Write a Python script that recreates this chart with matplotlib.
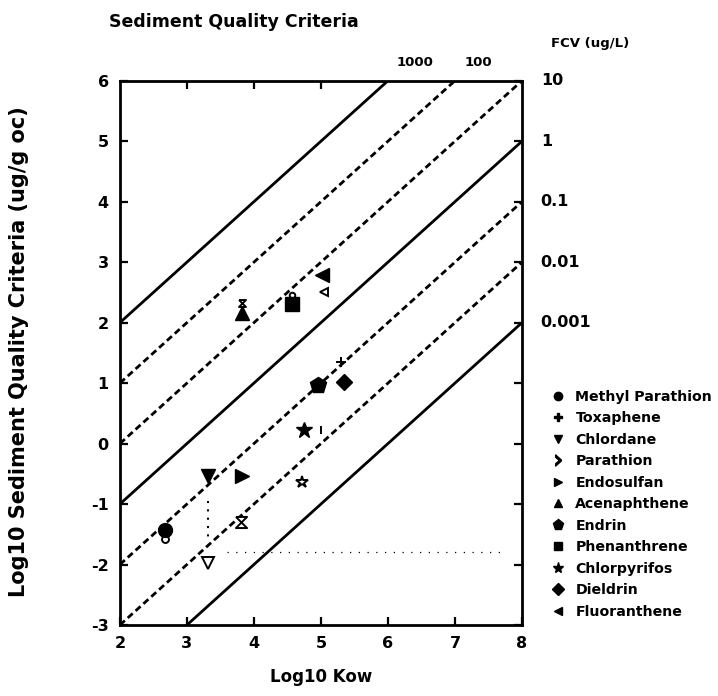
"""
Sediment quality criteria vs. log Kow, with FCV reference lines.
"""

import matplotlib
matplotlib.use("Agg")
import matplotlib.pyplot as plt
from matplotlib.lines import Line2D

# criteria lines: y = x + offset
line_offsets = [0, -1, -2, -3, -4, -5, -6]
line_styles = ["solid", "dashed", "dashed", "solid", "dashed", "dashed", "solid"]

# chemicals (filled symbols)
chemicals = ["Methyl Parathion", "Toxaphene", "Chlordane", "Parathion", "Endosulfan",
             "Acenaphthene", "Endrin", "Phenanthrene", "Chlorpyrifos", "Dieldrin",
             "Fluoranthene"]
chem_markers = ["o", "P", "v", "$\u203a$", ">", "^", "p", "s", "*", "D", "<"]
chem_x = [2.67, None, 3.32, None, 3.82, 3.82, 4.95, 4.57, 4.75, 5.34, 5.02]
chem_y = [-1.43, None, -0.53, None, -0.53, 2.16, 0.97, 2.30, 0.22, 1.02, 2.79]

# companion values (open symbols)
open_x = [2.67, 3.82, 4.57, 5.04, 5.30, 5.00, 4.72, 3.32, 3.80]
open_y = [-1.58, 2.33, 2.45, 2.50, 1.35, 0.22, -0.64, -1.97, -1.30]
hourglass = [(-1, 1), (1, 1), (-1, -1), (1, -1), (-1, 1)]
open_markers = ["o", hourglass, "o", "<", "+", "|", "*", "v", hourglass]
open_sizes = [5, 5, 4, 6, 7, 6, 9, 8, 8]

# right-hand FCV labels and top labels
fcv_y = [6, 5, 4, 3, 2]
fcv_labels = ["10", "1", "0.1", "0.01", "0.001"]
top_x = [6.4, 7.35]
top_labels = ["1000", "100"]

plt.rcParams["font.family"] = ["DejaVu Sans"]
plt.rcParams["font.weight"] = "bold"
plt.rcParams["axes.unicode_minus"] = False

fig = plt.figure(figsize=(7.18, 6.96), dpi=100)
ax = fig.add_axes([0.167, 0.102, 0.560, 0.782])

xs = [2, 8]
for off, ls in zip(line_offsets, line_styles):
    if ls == "solid":
        ax.plot(xs, [x + off for x in xs], color="black", lw=2.0, solid_capstyle="butt")
    else:
        ax.plot(xs, [x + off for x in xs], color="black", lw=2.0, dashes=(2.4, 1.4))

# guide dots
ax.plot([3.32, 3.32], [-0.95, -1.6], color="black", lw=1.5, ls=(0, (1, 3)))
ax.plot([3.6, 7.7], [-1.8, -1.8], color="black", lw=0.9, ls=(0, (1, 6)))

for x, y, m in zip(chem_x, chem_y, chem_markers):
    if x is None:
        continue
    size = 12 if m in ("p", "*") else 10
    if m == "D":
        size = 8
    ax.plot(x, y, marker=m, color="black", ms=size, ls="none", zorder=5)

for x, y, m, s in zip(open_x, open_y, open_markers, open_sizes):
    ax.plot(x, y, marker=m, ms=s, mfc="white", mec="black", mew=1.4,
            ls="none", zorder=4)

ax.set_xlim(2, 8)
ax.set_ylim(-3, 6)
ax.set_xticks(range(2, 9))
ax.set_yticks(range(-3, 7))
ax.tick_params(direction="in", length=6, width=1.6, labelsize=11.5, pad=8)
for lab in ax.get_xticklabels() + ax.get_yticklabels():
    lab.set_fontweight("bold")
for sp in ax.spines.values():
    sp.set_linewidth(2)

# top and right tick marks
ax_top = ax.secondary_xaxis("top")
ax_top.set_xticks([3, 4, 5])
ax_top.set_xticklabels([])
ax_top.tick_params(direction="in", length=6, width=1.6)
ax_right = ax.secondary_yaxis("right")
ax_right.set_yticks(range(-3, 7))
ax_right.set_yticklabels([])
ax_right.tick_params(direction="in", length=6, width=1.6)

for y, lab in zip(fcv_y, fcv_labels):
    ax.text(8.28, y, lab, fontsize=11.5, fontweight="bold", va="center", ha="left")
for x, lab in zip(top_x, top_labels):
    ax.text(x, 6.2, lab, fontsize=9.5, fontweight="bold", va="bottom", ha="center")
fig.text(0.768, 0.932, "FCV (ug/L)", fontsize=9.5, fontweight="bold")

fig.text(0.326, 0.968, "Sediment Quality Criteria", fontsize=12.5, fontweight="bold",
         ha="center", va="center")
ax.set_xlabel("Log10 Kow", fontsize=12, fontweight="bold", labelpad=12)
fig.text(0.026, 0.495, "Log10 Sediment Quality Criteria (ug/g oc)", fontsize=15,
         fontweight="bold", rotation=90, ha="center", va="center")

handles = []
for m in chem_markers:
    size = 8 if m in ("p", "*", "$\u203a$") else 6
    handles.append(Line2D([], [], marker=m, color="black", ls="none", ms=size))
fig.legend(handles, chemicals, loc="lower left", bbox_to_anchor=(0.757, 0.101),
           frameon=False, handlelength=1.0, handletextpad=0.75, labelspacing=0.53,
           borderpad=0, prop={"size": 10.2, "weight": "bold"})

fig.savefig("out.png", dpi=100)
